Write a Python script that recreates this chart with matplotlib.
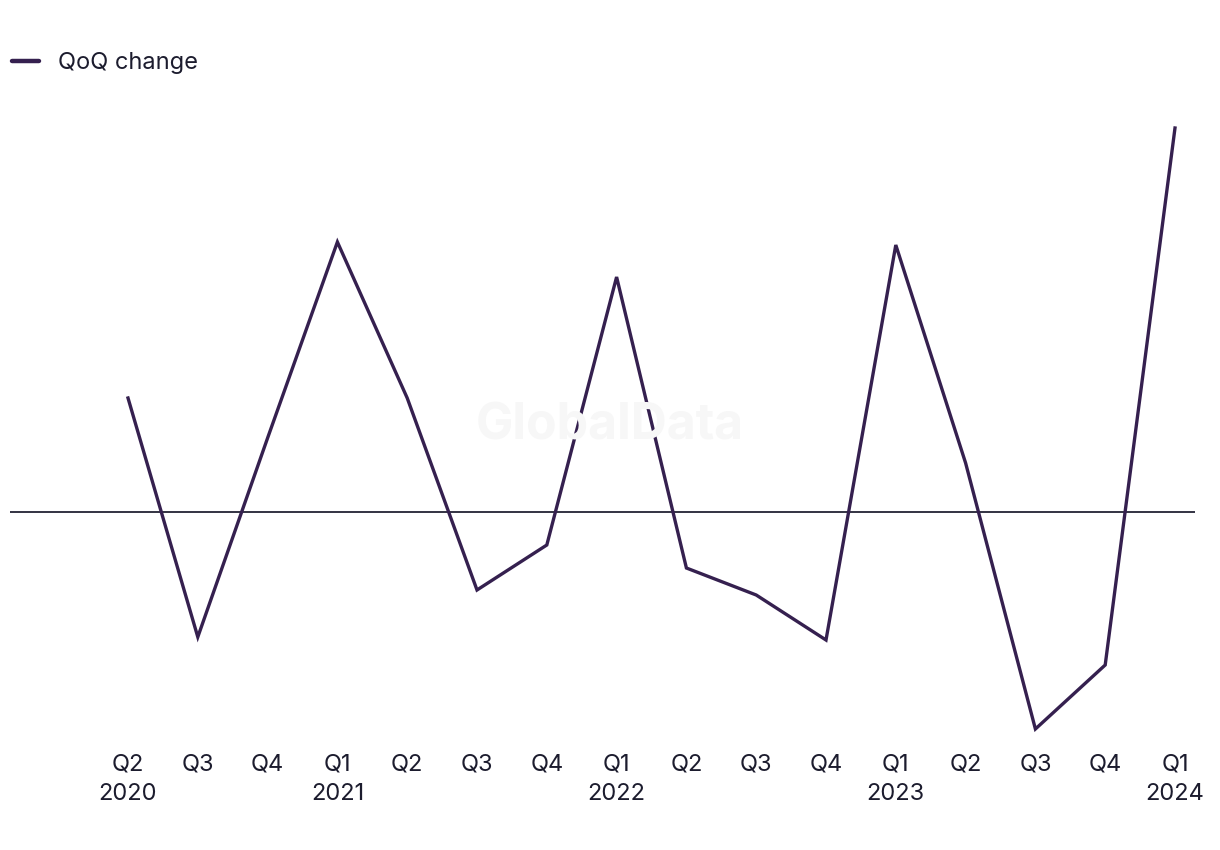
import matplotlib
matplotlib.use("Agg")
import matplotlib.pyplot as plt

quarters = ["Q2\n2020", "Q3", "Q4", "Q1\n2021", "Q2", "Q3", "Q4", "Q1\n2022",
            "Q2", "Q3", "Q4", "Q1\n2023", "Q2", "Q3", "Q4", "Q1\n2024"]
qoq_change = [1.14, -1.25, 0.74, 2.70, 1.14, -0.78, -0.33, 2.35,
              -0.56, -0.83, -1.28, 2.67, 0.49, -2.17, -1.53, 3.84]

plt.rcParams['font.family'] = ['Inter', 'DejaVu Sans']

fig = plt.figure(figsize=(12.2, 8.5), dpi=100)
ax = fig.add_axes([10/1220, 1 - 740/850, 1185/1220, 640/850])

x = list(range(len(quarters)))
line_color = "#35204f"
ax.plot(x, qoq_change, color=line_color, lw=2.4, solid_joinstyle='miter', zorder=3)
ax.axhline(0, color="#111122", lw=1.2, zorder=2)

ax.set_xlim(-118/69.8, (1195-128)/69.8)
ax.set_ylim(-2.28, 4.12)
ax.set_xticks(x)
ax.set_xticklabels(quarters, fontsize=17, color="#1c1c2e", linespacing=1.4)
ax.tick_params(axis='x', length=0, pad=10)
ax.set_yticks([])
for s in ax.spines.values():
    s.set_visible(False)

fig.text(610/1220, 1 - 426/850, "GlobalData", fontsize=36, fontweight='bold',
         color="#f7f7f7", ha='center', va='center', zorder=0)

handle = plt.Line2D([], [], color=line_color, lw=3.2, solid_capstyle='round')
fig.legend([handle], ["QoQ change"], loc='center left',
           bbox_to_anchor=(12/1220, 1 - 63/850), frameon=False,
           fontsize=17, handlelength=1.15, handletextpad=0.8, borderpad=0, borderaxespad=0,
           labelcolor="#1c1c2e")

fig.savefig("out.png", dpi=100)
